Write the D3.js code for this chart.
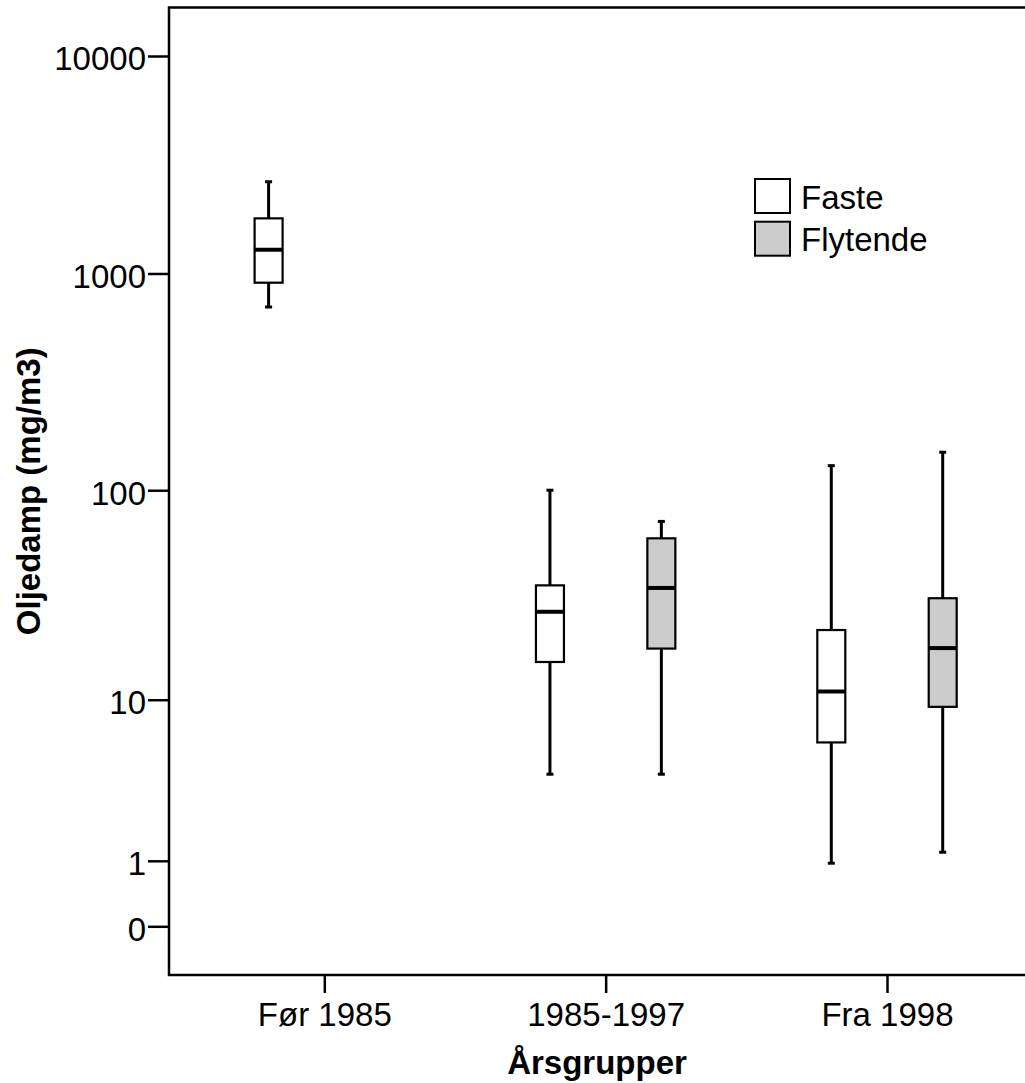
<!DOCTYPE html>
<html lang="no">
<head>
  <meta charset="UTF-8">
  <title>Oljedamp etter årsgrupper</title>
  <script src="https://d3js.org/d3.v7.min.js"></script>
  <style>
    body { margin: 0; background: #fff; }
    svg { display: block; font-family: "Liberation Sans", Arial, sans-serif; }
    .axis text { font-size: 33px; fill: #000; }
    .axis path, .axis line { stroke: #000; stroke-width: 2.5px; }
    .title { font-size: 33px; font-weight: bold; }
    .legend text { font-size: 33px; }
  </style>
</head>
<body>
  <svg width="1025" height="1083"></svg>
  <script>
    // categories and series
    const groups = ["Før 1985", "1985-1997", "Fra 1998"];
    const series = ["Faste", "Flytende"];
    const seriesFill = ["#ffffff", "#cccccc"];

    // box stats: [min, q1, median, q3, max]
    const fasteStats = [
      [701, 907, 1286, 1793, 2642],
      [4.0, 15.4, 26.9, 35.9, 100],
      [0.95, 6.0, 11.0, 22.0, 130]
    ];
    const flytendeStats = [
      null,
      [4.0, 17.9, 34.9, 59.7, 71.6],
      [1.19, 9.2, 18.0, 31.2, 150]
    ];

    const yTicks = [0, 1, 10, 100, 1000, 10000];

    const svg = d3.select("svg");
    const plotL = 169, plotT = 7.5, plotB = 975, plotR = 1030;

    // log(x+1) style axis
    const y = d3.scaleSymlog().constant(1).domain([0, 10000]).range([926.3, 56]);
    const x = d3.scalePoint().domain(groups).range([324.3, 887]);
    const sub = d3.scaleBand().domain(series).range([-111.4, 111.4]);
    const boxW = 28, capW = 7;

    // frame (right edge runs off the canvas)
    svg.append("rect")
      .attr("x", plotL).attr("y", plotT)
      .attr("width", plotR - plotL).attr("height", plotB - plotT)
      .attr("fill", "none").attr("stroke", "#000").attr("stroke-width", 2.5);

    const yAxis = svg.append("g")
      .attr("class", "axis")
      .attr("transform", `translate(${plotL},0)`)
      .call(d3.axisLeft(y).tickValues(yTicks).tickFormat(d3.format("d"))
        .tickSize(21).tickPadding(2));
    yAxis.select(".domain").remove();
    yAxis.selectAll("text").attr("dy", "0.42em");

    const xAxis = svg.append("g")
      .attr("class", "axis")
      .attr("transform", `translate(0,${plotB})`)
      .call(d3.axisBottom(x).tickSize(18).tickPadding(10));
    xAxis.select(".domain").remove();

    // boxes
    const boxes = [];
    groups.forEach((g, i) => {
      if (fasteStats[i]) boxes.push({ g, s: 0, v: fasteStats[i] });
      if (flytendeStats[i]) boxes.push({ g, s: 1, v: flytendeStats[i] });
    });

    const bx = svg.selectAll("g.box").data(boxes).enter().append("g")
      .attr("class", "box")
      .attr("transform", d => `translate(${x(d.g) + sub(series[d.s]) + sub.bandwidth() / 2},0)`);

    // whiskers
    bx.append("line").attr("x1", 0).attr("x2", 0)
      .attr("y1", d => y(d.v[4])).attr("y2", d => y(d.v[3]))
      .attr("stroke", "#000").attr("stroke-width", 3);
    bx.append("line").attr("x1", 0).attr("x2", 0)
      .attr("y1", d => y(d.v[1])).attr("y2", d => y(d.v[0]))
      .attr("stroke", "#000").attr("stroke-width", 3);
    // caps
    bx.append("line").attr("x1", -capW / 2).attr("x2", capW / 2)
      .attr("y1", d => y(d.v[4])).attr("y2", d => y(d.v[4]))
      .attr("stroke", "#000").attr("stroke-width", 3);
    bx.append("line").attr("x1", -capW / 2).attr("x2", capW / 2)
      .attr("y1", d => y(d.v[0])).attr("y2", d => y(d.v[0]))
      .attr("stroke", "#000").attr("stroke-width", 3);
    // box
    bx.append("rect")
      .attr("x", -boxW / 2).attr("width", boxW)
      .attr("y", d => y(d.v[3])).attr("height", d => y(d.v[1]) - y(d.v[3]))
      .attr("fill", d => seriesFill[d.s])
      .attr("stroke", "#000").attr("stroke-width", 2.2);
    // median
    bx.append("line").attr("x1", -boxW / 2).attr("x2", boxW / 2)
      .attr("y1", d => y(d.v[2])).attr("y2", d => y(d.v[2]))
      .attr("stroke", "#000").attr("stroke-width", 4);

    // legend
    const legend = svg.append("g").attr("class", "legend")
      .attr("transform", "translate(755,179)");
    series.forEach((s, i) => {
      legend.append("rect")
        .attr("x", 0).attr("y", i * 42.7)
        .attr("width", 35).attr("height", 34)
        .attr("fill", seriesFill[i]).attr("stroke", "#000").attr("stroke-width", 2);
      legend.append("text")
        .attr("x", 46).attr("y", i * 42.7 + 29.5)
        .text(s);
    });

    // axis titles
    svg.append("text").attr("class", "title")
      .attr("x", (plotL + 1025) / 2).attr("y", 1074)
      .attr("text-anchor", "middle")
      .text("Årsgrupper");
    svg.append("text").attr("class", "title")
      .attr("transform", `translate(40,${(plotT + plotB) / 2}) rotate(-90)`)
      .attr("text-anchor", "middle")
      .text("Oljedamp (mg/m3)");
  </script>
</body>
</html>
